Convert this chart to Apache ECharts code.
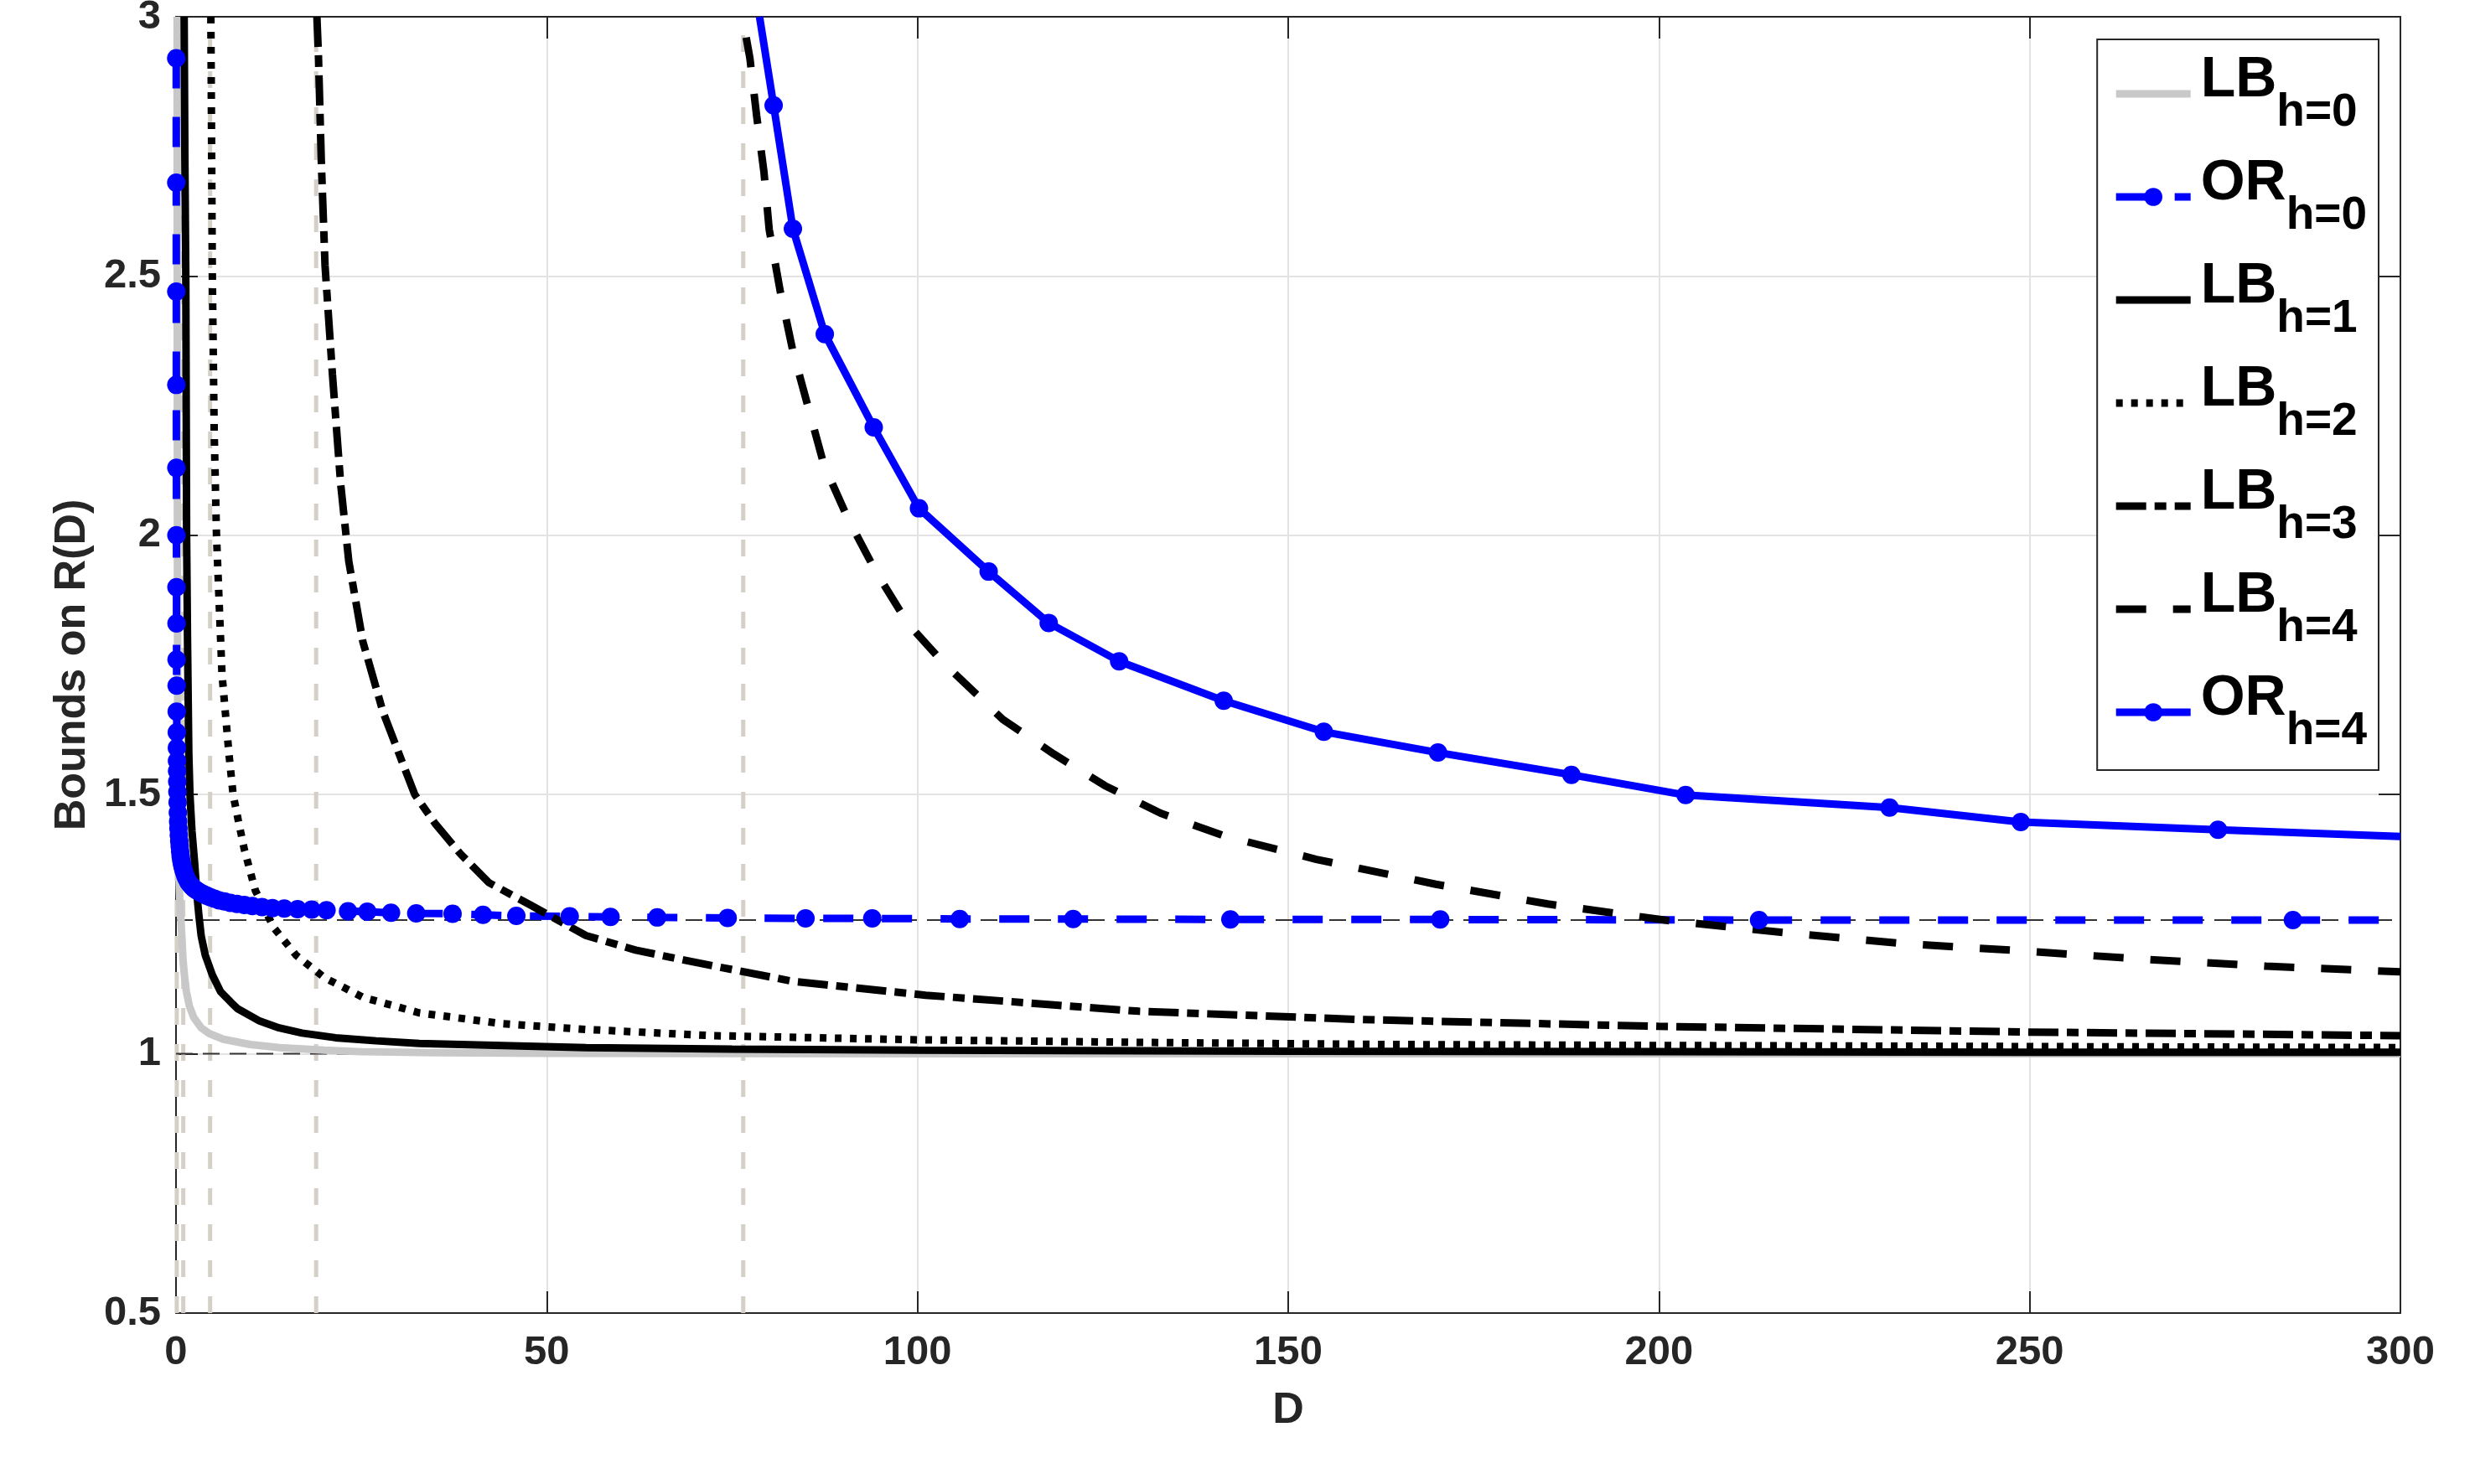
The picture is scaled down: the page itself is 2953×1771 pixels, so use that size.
<!DOCTYPE html>
<html><head><meta charset="utf-8">
<script src="https://cdn.jsdelivr.net/npm/echarts@6/dist/echarts.min.js"></script>
<style>html,body{margin:0;padding:0;background:#fff;}#c{width:2953px;height:1771px;}</style>
</head><body><div id="c"></div>
<script>
// ---- data ----
const seriesNames = ['LB_h=0','OR_h=0','LB_h=1','LB_h=2','LB_h=3','LB_h=4','OR_h=4'];
const xTickValues = [0, 50, 100, 150, 200, 250, 300];
const yTickValues = [0.5, 1, 1.5, 2, 2.5, 3];
const asymptoteD = [0.1, 0.98, 4.6, 18.9, 76.5];
const refLevels = [1, 1.258];

const lb0 = [[0.15,3.0],[0.17,2.4],[0.19,2.0],[0.22,1.7],[0.25,1.5],[0.3,1.4],[0.4,1.34],[0.5,1.3],[0.62,1.27],[0.75,1.235],[0.95,1.18],[1.15,1.15],[1.4,1.12],[1.8,1.092],[2.4,1.07],[3.4,1.05],[4.5,1.039],[6.4,1.028],[10,1.018],[14,1.012],[20,1.007],[25,1.004],[35,1.002],[50,1.001],[100,1.0],[200,1.0],[300,1.0]];

const or0 = [[0.03,2.92],[0.034,2.68],[0.038,2.47],[0.043,2.29],[0.048,2.13],[0.054,2.0],[0.06,1.9],[0.068,1.83],[0.076,1.76],[0.085,1.71],[0.095,1.66],[0.107,1.62],[0.12,1.59],[0.135,1.565],[0.15,1.545],[0.17,1.525],[0.19,1.505],[0.22,1.485],[0.25,1.465],[0.29,1.448],[0.33,1.435],[0.38,1.422],[0.44,1.41],[0.5,1.4],[0.56,1.39],[0.63,1.381],[0.71,1.373],[0.8,1.366],[0.9,1.36],[1.02,1.354],[1.15,1.348],[1.3,1.342],[1.46,1.337],[1.64,1.332],[1.84,1.328],[2.07,1.324],[2.32,1.32],[2.6,1.317],[2.92,1.314],[3.28,1.311],[3.68,1.308],[4.13,1.305],[4.63,1.302],[5.19,1.299],[5.82,1.296],[6.53,1.294],[7.33,1.291],[8.22,1.289],[9.22,1.287],[10.3,1.285],[11.6,1.283],[13.0,1.281],[14.6,1.28],[16.4,1.279],[18.3,1.278],[20.3,1.277],[23.2,1.275],[25.8,1.274],[29.0,1.272],[32.4,1.271],[37.3,1.27],[41.4,1.268],[45.9,1.266],[53.1,1.265],[58.6,1.264],[64.9,1.263],[74.4,1.262],[84.9,1.261],[93.9,1.261],[105.7,1.26],[121.0,1.26],[142.2,1.259],[170.5,1.259],[213.5,1.258],[285.5,1.258],[300,1.258]];

const lb1 = [[1.1,3.0],[1.2,2.72],[1.32,2.5],[1.43,2.0],[1.55,1.8],[1.73,1.577],[1.88,1.5],[2.15,1.43],[2.52,1.367],[2.8,1.31],[3.1,1.265],[3.4,1.227],[3.95,1.19],[4.9,1.152],[6.0,1.12],[7.5,1.098],[8.3,1.087],[11.3,1.063],[13.9,1.05],[17,1.04],[21.5,1.031],[27,1.025],[32.8,1.02],[44,1.016],[55.3,1.012],[75,1.009],[100,1.007],[150,1.005],[200,1.004],[250,1.003],[300,1.003]];

const lb2 = [[4.7,3.0],[4.9,2.5],[5.15,2.2],[5.46,2.0],[6.2,1.733],[7.15,1.577],[7.7,1.5],[8.4,1.45],[9.2,1.395],[10.7,1.315],[13.2,1.243],[16.2,1.19],[20,1.147],[25.2,1.109],[32.8,1.079],[44,1.058],[55.3,1.047],[72.3,1.035],[100,1.027],[130,1.022],[162.7,1.018],[200,1.016],[250,1.014],[300,1.012]];

const lb3 = [[19.0,3.0],[19.2,2.93],[19.6,2.72],[20.1,2.52],[21.1,2.31],[22.2,2.1],[23.3,1.95],[25.2,1.795],[27.9,1.66],[30.9,1.548],[32.2,1.5],[35,1.443],[38.4,1.385],[42.2,1.33],[47.8,1.287],[55.3,1.228],[62,1.2],[68.1,1.182],[72.3,1.17],[83.1,1.14],[101.1,1.113],[129.9,1.082],[160,1.066],[199.9,1.053],[249.6,1.042],[300,1.035]];

const lb4 = [[76.9,2.96],[77.4,2.92],[78.3,2.81],[79.3,2.7],[80.0,2.59],[81.5,2.47],[83.2,2.355],[85.3,2.245],[87.4,2.135],[90.7,2.03],[94.5,1.927],[98.8,1.828],[103.5,1.754],[111.5,1.645],[118.4,1.578],[125.3,1.517],[132.8,1.464],[141.4,1.42],[153.8,1.375],[169.9,1.327],[185,1.289],[201.2,1.257],[217.3,1.233],[233.5,1.212],[249.6,1.198],[265.7,1.182],[281.9,1.169],[300,1.158]];

const or4 = [[78.7,3.0],[80.6,2.829],[83.2,2.591],[87.5,2.388],[94.1,2.208],[100.2,2.052],[109.6,1.93],[117.7,1.831],[127.2,1.757],[141.3,1.681],[154.8,1.621],[170.2,1.581],[188.2,1.538],[203.6,1.499],[231.1,1.475],[248.8,1.447],[275.4,1.432],[300,1.419]];

// ---- chart ----
const FONT = "'Liberation Sans', Arial, Helvetica, sans-serif";
const AX = '#262626';
const xMin = xTickValues[0], xMax = xTickValues[xTickValues.length-1];
const yMin = yTickValues[0], yMax = yTickValues[yTickValues.length-1];

function edgeless(arr){ // no marker on the points where the curve leaves the axes box
  return arr.map((p,i)=> ((i===0 && p[1]>=yMax) || (i===arr.length-1 && p[0]>=xMax)) ? {value:p, symbol:'none'} : p);
}

const helperSeries = [];
asymptoteD.forEach(a => helperSeries.push({
  type:'line', data:[[a,yMin],[a,yMax]], symbol:'none', silent:true, z:1, animation:false,
  lineStyle:{color:'#d4d0c8', width:5, type:[20,23]}
}));
refLevels.forEach(v => helperSeries.push({
  type:'line', data:[[xMin,v],[xMax,v]], symbol:'none', silent:true, z:1, animation:false,
  lineStyle:{color:'#333333', width:2, type:[20,12]}
}));

const blue = '#0000ff';
const LW = 9;
const mainSeries = [
  {name:seriesNames[0], data:lb0, symbol:'none', lineStyle:{color:'#c8c8c8', width:LW}, itemStyle:{color:'#c8c8c8'}},
  {name:seriesNames[1], data:edgeless(or0), symbol:'circle', symbolSize:22, lineStyle:{color:blue, width:LW, type:[36,34]}, itemStyle:{color:blue}},
  {name:seriesNames[2], data:lb1, symbol:'none', lineStyle:{color:'#000', width:LW}, itemStyle:{color:'#000'}},
  {name:seriesNames[3], data:lb2, symbol:'none', lineStyle:{color:'#000', width:LW, type:[8,10]}, itemStyle:{color:'#000'}},
  {name:seriesNames[4], data:lb3, symbol:'none', lineStyle:{color:'#000', width:LW, type:[36,10,14,10]}, itemStyle:{color:'#000'}},
  {name:seriesNames[5], data:lb4, symbol:'none', lineStyle:{color:'#000', width:LW, type:[36,32]}, itemStyle:{color:'#000'}},
  {name:seriesNames[6], data:edgeless(or4), symbol:'circle', symbolSize:22, lineStyle:{color:blue, width:LW}, itemStyle:{color:blue}}
].map(s => Object.assign({type:'line', showSymbol:true, clip:true, z:2, emphasis:{disabled:true}, animation:false}, s));

const legendData = seriesNames.map((n,i) => mainSeries[i].symbol === 'none'
  ? {name:n, itemStyle:{opacity:0}} : {name:n});

const axisCommon = {type:'value', min:xMin, max:xMax, interval:50};
const chart = echarts.init(document.getElementById('c'), null, {renderer:'canvas'});
chart.setOption({
  animation:false,
  backgroundColor:'#ffffff',
  grid:{left:210, right:89, top:20, bottom:204, outerBoundsMode:'none', containLabel:false},
  xAxis:[
    Object.assign({}, axisCommon, {
      position:'bottom', name:'D', nameLocation:'middle', nameGap:91,
      nameTextStyle:{fontFamily:FONT, fontWeight:'bold', fontSize:52, color:AX},
      axisLine:{show:true, onZero:false, lineStyle:{color:AX, width:2}},
      axisTick:{show:true, inside:true, length:26, lineStyle:{color:AX, width:2}},
      axisLabel:{fontFamily:FONT, fontWeight:'bold', fontSize:49, color:AX, margin:23},
      splitLine:{show:true, lineStyle:{color:'#e3e3e3', width:2}}
    }),
    Object.assign({}, axisCommon, {
      position:'top',
      axisLine:{show:true, onZero:false, lineStyle:{color:AX, width:2}},
      axisTick:{show:true, inside:true, length:26, lineStyle:{color:AX, width:2}},
      axisLabel:{show:false}, splitLine:{show:false}
    })
  ],
  yAxis:[
    {type:'value', min:yMin, max:yMax, interval:0.5, position:'left',
      name:'Bounds on R(D)', nameLocation:'middle', nameGap:95,
      nameTextStyle:{fontFamily:FONT, fontWeight:'bold', fontSize:52, color:AX},
      axisLine:{show:true, onZero:false, lineStyle:{color:AX, width:2}},
      axisTick:{show:true, inside:true, length:26, lineStyle:{color:AX, width:2}},
      axisLabel:{fontFamily:FONT, fontWeight:'bold', fontSize:49, color:AX, margin:18},
      splitLine:{show:true, lineStyle:{color:'#e3e3e3', width:2}}
    },
    {type:'value', min:yMin, max:yMax, interval:0.5, position:'right',
      axisLine:{show:true, onZero:false, lineStyle:{color:AX, width:2}},
      axisTick:{show:true, inside:true, length:26, lineStyle:{color:AX, width:2}},
      axisLabel:{show:false}, splitLine:{show:false}
    }
  ],
  legend:{
    data:legendData, orient:'vertical', right:115, top:47, align:'left',
    itemWidth:89, itemHeight:27, itemGap:23,
    padding:[15,14,19,18],
    borderColor:AX, borderWidth:2, backgroundColor:'#ffffff',
    selectedMode:false,
    lineStyle:{width:LW},
    formatter: n => { const parts = n.split('_'); return '{z| }{m|' + parts[0] + '}{s|' + parts[1] + '}'; },
    textStyle:{
      fontFamily:FONT, fontWeight:'bold', color:'#000',
      rich:{
        z:{fontSize:1, lineHeight:100, width:7},
        m:{fontFamily:FONT, fontWeight:'bold', fontSize:68, color:'#000', lineHeight:74, verticalAlign:'top'},
        s:{fontFamily:FONT, fontWeight:'bold', fontSize:55, color:'#000', lineHeight:52, verticalAlign:'bottom'}
      }
    }
  },
  series: helperSeries.concat(mainSeries)
});
</script></body></html>
